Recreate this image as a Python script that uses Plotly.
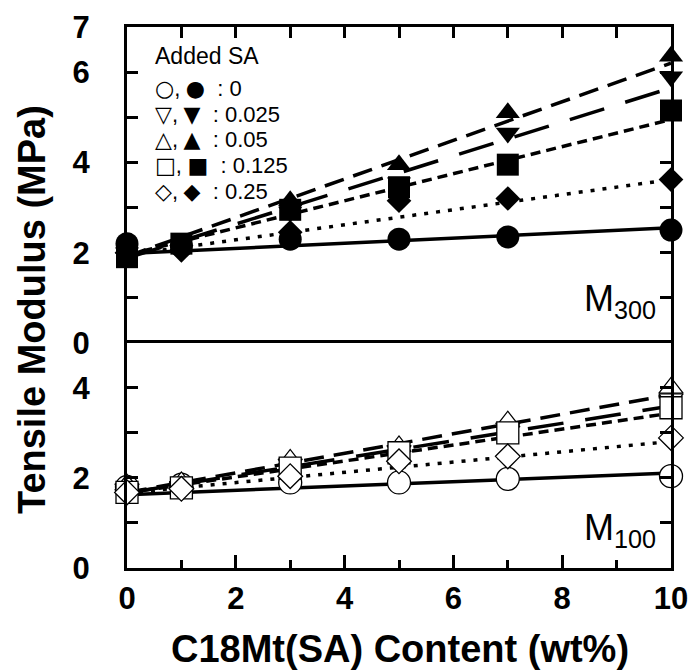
import plotly.graph_objects as go
from plotly.subplots import make_subplots

# ---------------- data ----------------
content = [0, 1, 3, 5, 7, 10]
sa_levels = ["0", "0.025", "0.05", "0.125", "0.25"]

# M300 (filled markers, top panel)
m300_sa0 = [2.2, 2.15, 2.3, 2.3, 2.35, 2.5]
m300_sa0025 = [2.0, 2.05, 2.9, 3.55, 4.65, 5.9]
m300_sa005 = [2.1, 2.15, 3.15, 3.95, 5.1, 6.35]
m300_sa0125 = [1.9, 2.2, 2.95, 3.45, 3.95, 5.15]
m300_sa025 = [2.0, 2.05, 2.45, 3.15, 3.2, 3.62]

# M100 (open markers, bottom panel)
m100_sa0 = [1.8, 1.85, 1.9, 1.9, 1.98, 2.04]
m100_sa0025 = [1.75, 1.8, 2.3, 2.6, 3.1, 3.75]
m100_sa005 = [1.85, 1.9, 2.4, 2.7, 3.25, 4.0]
m100_sa0125 = [1.68, 1.78, 2.22, 2.56, 3.0, 3.56]
m100_sa025 = [1.68, 1.76, 2.04, 2.37, 2.48, 2.89]

# linear-fit lines (value at 0 wt% and at 10 wt%)
fit_x = [0, 10]
m300_fit_start = [1.98, 1.88, 1.92, 1.95, 1.95]
m300_fit_end = [2.55, 5.65, 6.2, 4.95, 3.62]
m100_fit_start = [1.63, 1.67, 1.68, 1.67, 1.67]
m100_fit_end = [2.11, 3.6, 3.85, 3.44, 2.81]

# axis ticks
x_major = [0, 2, 4, 6, 8, 10]
x_minor = [1, 3, 5, 7, 9]
y_top_major = [0, 2, 4, 6, 7]
y_top_minor = [1, 3, 5]
y_bot_major = [0, 2, 4]
y_bot_minor = [1, 3]

m300_series = [m300_sa0, m300_sa0025, m300_sa005, m300_sa0125, m300_sa025]
m100_series = [m100_sa0, m100_sa0025, m100_sa005, m100_sa0125, m100_sa025]

# ---------------- styles ----------------
symbols = ["circle", "triangle-down", "triangle-up", "square", "diamond"]
sizes = [23, 21, 21, 22, 19]
dashes = ["solid", "36px,22px", "20px,10px", "10px,6px", "4px,8px"]
LW = 3.5
FONT = "Liberation Sans, Arial, Helvetica, sans-serif"

# plot-area geometry in pixels
W, H = 694, 672
L, R, T, B = 127, 23, 27, 104
PW, PH = W - L - R, H - T - B


def px(x):
    return (x - L) / PW


def py(y):
    return (H - B - y) / PH


fig = make_subplots(rows=2, cols=1, shared_xaxes=False, vertical_spacing=0,
                    row_heights=[0.584, 0.416])

for panel, (series, fstart, fend, filled) in enumerate([
        (m300_series, m300_fit_start, m300_fit_end, True),
        (m100_series, m100_fit_start, m100_fit_end, False)]):
    row = panel + 1
    for i in range(len(sa_levels)):
        fig.add_trace(go.Scatter(
            x=fit_x, y=[fstart[i], fend[i]], mode="lines",
            line=dict(color="black", width=LW, dash=dashes[i]),
            showlegend=False, hoverinfo="skip", cliponaxis=False), row=row, col=1)
    for i in range(len(sa_levels)):
        fig.add_trace(go.Scatter(
            x=content, y=series[i], mode="markers",
            marker=dict(symbol=symbols[i], size=sizes[i],
                        color="black" if filled else "white",
                        line=dict(color="black", width=0 if filled else 1.3)),
            name=sa_levels[i], showlegend=False, cliponaxis=False), row=row, col=1)

axis_common = dict(showline=True, linecolor="black", linewidth=3,
                   ticks="inside", tickcolor="black", tickwidth=3,
                   showgrid=False, zeroline=False, automargin=False)
tick_font = dict(family=FONT, size=31, color="black", weight="bold")
title_font = dict(family=FONT, size=38, color="black", weight="bold")
minor_common = dict(tickwidth=3, tickcolor="black", ticks="inside", showgrid=False)

fig.update_layout(
    width=W, height=H,
    margin=dict(l=L, r=R, t=T, b=B),
    paper_bgcolor="white", plot_bgcolor="white",
    showlegend=False,
    xaxis=dict(range=[0, 10], side="top", tickvals=x_major, ticklen=11,
               minor=dict(tickvals=x_minor, ticklen=11, **minor_common),
               showticklabels=False, matches="x2", **axis_common),
    xaxis2=dict(range=[0, 10], tickvals=x_major, ticklen=13,
                minor=dict(tickvals=x_minor, ticklen=8, **minor_common),
                mirror=True, tickfont=tick_font, ticklabelstandoff=1,
                **axis_common),
    yaxis=dict(range=[0, 7], tickvals=y_top_major, ticklen=11,
               minor=dict(tickvals=y_top_minor, ticklen=11, **minor_common),
               mirror="ticks", tickfont=tick_font, ticklabelstandoff=28,
               **axis_common),
    yaxis2=dict(range=[0, 5], tickvals=y_bot_major, ticklen=11,
                minor=dict(tickvals=y_bot_minor, ticklen=11, **minor_common),
                mirror="ticks", tickfont=tick_font, ticklabelstandoff=28,
                **axis_common),
)

# axis titles
fig.add_annotation(text="C18Mt(SA) Content (wt%)", xref="paper", yref="paper",
                   x=px(400), y=py(649), xanchor="center", yanchor="middle",
                   showarrow=False, font=title_font)
fig.add_annotation(text="Tensile Modulus (MPa)", xref="paper", yref="paper",
                   x=px(32), y=py(310), textangle=-90,
                   xanchor="center", yanchor="middle", showarrow=False,
                   font=title_font)

# panel labels
label_font = dict(family=FONT, size=36, color="black")
fig.add_annotation(text="M<sub>300</sub>", xref="paper", yref="paper",
                   x=px(658), y=py(301), xanchor="right",
                   yanchor="middle", showarrow=False, font=label_font)
fig.add_annotation(text="M<sub>100</sub>", xref="paper", yref="paper",
                   x=px(658), y=py(530), xanchor="right",
                   yanchor="middle", showarrow=False, font=label_font)

# legend (manual): one block, one line per SA level
fig.add_annotation(text="Added SA", xref="paper", yref="paper",
                   x=px(153), y=py(56), xanchor="left",
                   yanchor="middle", showarrow=False,
                   font=dict(family=FONT, size=23, color="black"))
leg_rows = [("○", "●"), ("▽", "▼"), ("△", "▲"), ("□", "■"), ("◇", "◆")]
SYM = '<span style="font-family:DejaVu Sans;font-size:22px">{}</span>'
TXT = '<span style="font-size:22px">{}</span>'
lines = []
for (o, f), lvl in zip(leg_rows, sa_levels):
    lines.append(f"{SYM.format(o)}{TXT.format(',')} {SYM.format(f)}"
                 f"{TXT.format('  : ' + lvl)}")
fig.add_annotation(text="<br>".join(lines), xref="paper", yref="paper",
                   x=px(153), y=py(140), xanchor="left", yanchor="middle",
                   align="left", showarrow=False,
                   font=dict(family=FONT, size=19.8, color="black"))

fig.write_html("out.html")
